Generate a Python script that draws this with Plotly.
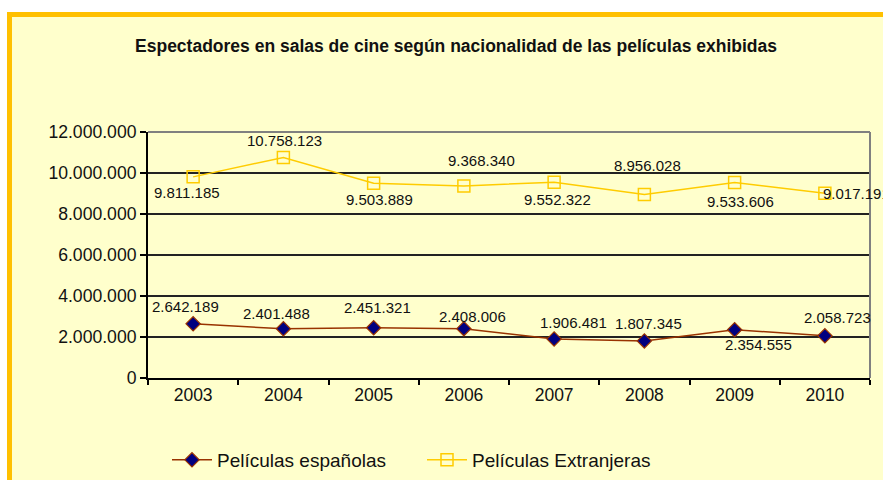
import plotly.graph_objects as go

years = ["2003", "2004", "2005", "2006", "2007", "2008", "2009", "2010"]
espanolas = [2642189, 2401488, 2451321, 2408006, 1906481, 1807345, 2354555, 2058723]
extranjeras = [9811185, 10758123, 9503889, 9368340, 9552322, 8956028, 9533606, 9017191]

# label offsets (pixels, label centre relative to the point)
off_esp = [(-8, 17), (-7, 15), (4, 20), (9, 12), (19, 16), (4, 17), (24, -15), (13, 18)]
off_ext = [(-6, -16), (1, 17), (6, -16), (18, 25), (3, -17), (3, 29), (6, -19), (-4, 0)]

font = "Liberation Sans, Arial, sans-serif"

W, H = 883, 480
L, R, T, B = 148, 13, 132, 102
PW, PH = W - L - R, H - T - B


def px(x):
    return (x - L) / PW


def py(y):
    return (H - B - y) / PH


def fmt(v):
    return f"{v:,}".replace(",", ".")


fig = go.Figure()
fig.add_trace(go.Scatter(
    x=years, y=espanolas, name="Películas españolas", mode="lines+markers",
    line=dict(color="#993300", width=1.5),
    marker=dict(symbol="diamond", size=11, color="#000080", line=dict(color="#993300", width=1.2)),
    cliponaxis=False,
))
fig.add_trace(go.Scatter(
    x=years, y=extranjeras, name="Películas Extranjeras", mode="lines+markers",
    line=dict(color="#FFCC00", width=1.5),
    marker=dict(symbol="square-open", size=12, color="#FFCC00", line=dict(color="#FFCC00", width=1.5)),
    cliponaxis=False,
))

annotations = []
for i, v in enumerate(espanolas):
    dx, dy = off_esp[i]
    annotations.append(dict(x=i, y=v, text=fmt(v), showarrow=False, xanchor="center",
                            yanchor="middle", xshift=dx, yshift=dy,
                            font=dict(size=15, color="#111")))
for i, v in enumerate(extranjeras):
    dx, dy = off_ext[i]
    anchor = "left" if i == len(years) - 1 else "center"
    annotations.append(dict(x=i, y=v, text=fmt(v), showarrow=False, xanchor=anchor,
                            yanchor="middle", xshift=dx, yshift=dy,
                            font=dict(size=15, color="#111")))

fig.update_layout(
    width=W, height=H,
    margin=dict(l=L, r=R, t=T, b=B, autoexpand=False),
    paper_bgcolor="#FFFFCC", plot_bgcolor="#FFFFCC",
    separators=",.",
    font=dict(family=font, color="#111"),
    title=dict(text="<b>Espectadores en salas de cine según nacionalidad de las películas exhibidas</b>",
               x=456 / W, xanchor="center", y=1 - 46 / H, yanchor="middle",
               font=dict(size=17.5, color="#111")),
    showlegend=True,
    legend=dict(orientation="h", xref="container", yref="container",
                x=167 / W, xanchor="left", y=1 - 460 / H, yanchor="middle",
                font=dict(size=19), bgcolor="rgba(0,0,0,0)", itemwidth=40,
                entrywidth=200),
    xaxis=dict(type="category", range=[-0.5, len(years) - 0.5], autorange=False,
               tickson="boundaries", ticks="outside", ticklen=5,
               tickcolor="#000", tickwidth=1.5, showline=True, linecolor="#000", linewidth=2,
               showgrid=False, tickfont=dict(size=17.5), tickangle=0, fixedrange=True),
    yaxis=dict(range=[0, 12000000], autorange=False, dtick=2000000, tickformat=",d",
               ticks="outside", ticklen=6, tickcolor="#000", tickwidth=1.5, showline=True,
               linecolor="#000", linewidth=2, showgrid=True, gridcolor="#222", gridwidth=1.5,
               zeroline=False, tickfont=dict(size=17.6), fixedrange=True),
    annotations=annotations,
)

shapes = [
    dict(type="line", xref="paper", yref="paper", x0=0, x1=1, y0=1, y1=1,
         line=dict(color="#808080", width=2)),
    dict(type="line", xref="paper", yref="paper", x0=1, x1=1, y0=0, y1=1,
         line=dict(color="#808080", width=2)),
    # white margin above and left of the orange frame
    dict(type="rect", xref="paper", yref="paper", x0=px(0), x1=px(W), y0=py(12), y1=py(0),
         fillcolor="#FFFFFF", line=dict(width=0)),
    dict(type="rect", xref="paper", yref="paper", x0=px(0), x1=px(7), y0=py(H), y1=py(0),
         fillcolor="#FFFFFF", line=dict(width=0)),
    # orange frame: top and left
    dict(type="rect", xref="paper", yref="paper", x0=px(7), x1=px(W), y0=py(17), y1=py(12),
         fillcolor="#FFC000", line=dict(width=0)),
    dict(type="rect", xref="paper", yref="paper", x0=px(7), x1=px(12), y0=py(H), y1=py(12),
         fillcolor="#FFC000", line=dict(width=0)),
]
fig.update_layout(shapes=shapes)

fig.write_html("out.html", config={"displayModeBar": False},
               post_script="document.body.style.margin='0';")
